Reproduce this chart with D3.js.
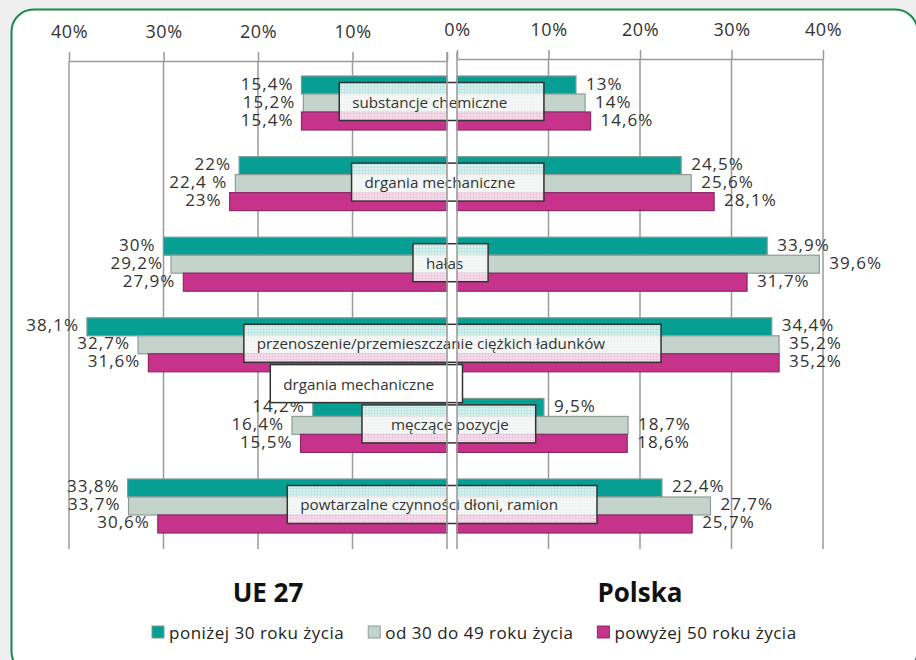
<!DOCTYPE html>
<html>
<head>
<meta charset="utf-8">
<script src="https://cdn.jsdelivr.net/npm/d3@7"></script>
<style>
  html, body { margin: 0; padding: 0; background: #efefef; }
  svg { display: block; font-family: 'Open Sans', 'DejaVu Sans', sans-serif; }
</style>
</head>
<body>
<div id="chart"></div>
<script>
// kategorie zagrożeń
const categories = [
    'substancje chemiczne',
    'drgania mechaniczne',
    'hałas',
    'przenoszenie/przemieszczanie ciężkich ładunków',
    'męczące pozycje',
    'powtarzalne czynności dłoni, ramion'
];
const ageGroups = ['poniżej 30 roku życia', 'od 30 do 49 roku życia', 'powyżej 50 roku życia'];
const colors = ['#079e93', '#c4d4cd', '#c7338b'];
const strokes = ['#7f9a96', '#8f9c97', '#8a2a66'];

// UE 27 (lewa strona)
const ueUnder30 = [15.4, 22, 30, 38.1, 14.2, 33.8];
const ue30to49 = [15.2, 22.4, 29.2, 32.7, 16.4, 33.7];
const ue50plus = [15.4, 23, 27.9, 31.6, 15.5, 30.6];

// Polska (prawa strona)
const plUnder30 = [13, 24.5, 33.9, 34.4, 9.5, 22.4];
const pl30to49 = [14, 25.6, 39.6, 35.2, 18.7, 27.7];
const pl50plus = [14.6, 28.1, 31.7, 35.2, 18.6, 25.7];

const tickValues = [0, 10, 20, 30, 40];
const tickLabels = ['0%', '10%', '20%', '30%', '40%'];

// etykieta zapisana w oryginale ze spacją
const labelOverrides = { 'ue-1-1': '22,4 %' };

// ramki z nazwami kategorii: [lewa krawędź (% UE), prawa krawędź (% PL), wcięcie tekstu]
const boxes = [
    [11.4, 9.5, 13],
    [10.1, 9.5, 13],
    [3.6, 3.4, 13],
    [21.5, 22.3, 13],
    [9.0, 8.6, 29],
    [16.9, 15.3, 13]
];
const extraBoxText = 'drgania mechaniczne';

const W = 916, H = 660;
const svg = d3.select('#chart').append('svg').attr('width', W).attr('height', H);

// tło i zaokrąglona ramka
svg.append('rect').attr('x', 11.5).attr('y', 9.5).attr('width', 906).attr('height', 664)
    .attr('rx', 22).attr('fill', '#fff').attr('stroke', '#1a8a4c').attr('stroke-width', 2);

const defs = svg.append('defs');
const pat = defs.append('pattern').attr('id', 'dots').attr('patternUnits', 'userSpaceOnUse')
    .attr('width', 3).attr('height', 3);
pat.append('rect').attr('width', 3).attr('height', 3).attr('fill', '#fff').attr('fill-opacity', 0.74);
pat.append('rect').attr('width', 2).attr('height', 2).attr('fill', '#fff').attr('fill-opacity', 0.4);

// skale
const xLeft = d3.scaleLinear().domain([0, 40]).range([447, 69]);
const xRight = d3.scaleLinear().domain([0, 40]).range([457, 823]);
const y = d3.scaleBand().domain(categories).range([76, 533]).paddingInner(0.33);
const ySub = d3.scaleBand().domain(ageGroups).range([0, y.bandwidth()]);

const gridTop = 52, gridBottom = 549;

// osie górne (0% podpisane tylko raz, po stronie Polski)
function drawAxis(scale, yPos, showZero) {
    const axis = d3.axisTop(scale).tickValues(tickValues).tickSize(9).tickSizeOuter(0).tickPadding(14)
        .tickFormat((d, i) => (d === 0 && !showZero) ? '' : tickLabels[i]);
    const g = svg.append('g').attr('transform', `translate(0,${yPos})`).call(axis);
    g.select('.domain').attr('stroke', '#9a9a9a').attr('stroke-width', 1.5);
    g.selectAll('.tick line').attr('stroke', '#9a9a9a').attr('stroke-width', 1.5);
    g.selectAll('.tick text').attr('font-size', 18).attr('letter-spacing', 0.6).attr('fill', '#333')
        .attr('font-family', "'Open Sans', sans-serif");
    // linie siatki
    svg.append('g').selectAll('line').data(tickValues.filter(d => d > 0)).join('line')
        .attr('x1', d => scale(d)).attr('x2', d => scale(d))
        .attr('y1', yPos).attr('y2', gridBottom)
        .attr('stroke', '#9a9a9a').attr('stroke-width', 1.5);
}
drawAxis(xLeft, 61, false);
drawAxis(xRight, 59, true);

const ueSeries = [ueUnder30, ue30to49, ue50plus];
const plSeries = [plUnder30, pl30to49, pl50plus];

const fmt = v => String(v).replace('.', ',') + '%';

function rows(series, side) {
    const out = [];
    series.forEach((vals, s) => {
        vals.forEach((v, i) => {
            out.push({ side: side, s: s, cat: categories[i], value: v,
                label: labelOverrides[side + '-' + i + '-' + s] || fmt(v) });
        });
    });
    return out;
}
const ueData = rows(ueSeries, 'ue');
const plData = rows(plSeries, 'pl');

const barY = d => y(d.cat) + ySub(ageGroups[d.s]);

// słupki UE
svg.append('g').selectAll('rect').data(ueData).join('rect')
    .attr('x', d => xLeft(d.value)).attr('width', d => xLeft(0) - xLeft(d.value))
    .attr('y', barY).attr('height', ySub.bandwidth())
    .attr('fill', d => colors[d.s]).attr('stroke', d => strokes[d.s]).attr('stroke-width', 1.2);

// słupki Polska
svg.append('g').selectAll('rect').data(plData).join('rect')
    .attr('x', xRight(0)).attr('width', d => xRight(d.value) - xRight(0))
    .attr('y', barY).attr('height', ySub.bandwidth())
    .attr('fill', d => colors[d.s]).attr('stroke', d => strokes[d.s]).attr('stroke-width', 1.2);

// etykiety wartości
svg.append('g').selectAll('text').data(ueData).join('text')
    .attr('x', d => xLeft(d.value) - 8).attr('y', d => barY(d) + ySub.bandwidth() / 2 - 2)
    .attr('text-anchor', 'end').attr('dominant-baseline', 'central')
    .attr('font-size', 17).attr('letter-spacing', 1).attr('fill', '#333').text(d => d.label);

svg.append('g').selectAll('text').data(plData).join('text')
    .attr('x', d => xRight(d.value) + 10).attr('y', d => barY(d) + ySub.bandwidth() / 2 - 2)
    .attr('dominant-baseline', 'central')
    .attr('font-size', 17).attr('letter-spacing', 1).attr('fill', '#333').text(d => d.label);

// ramki z nazwami kategorii
const boxH = 38;
const boxG = svg.append('g');
categories.forEach((c, i) => {
    const b = boxes[i];
    const x0 = xLeft(b[0]), x1 = xRight(b[1]);
    const cy = y(c) + y.bandwidth() / 2 - 1.5;
    boxG.append('rect').attr('x', x0).attr('y', cy - boxH / 2).attr('width', x1 - x0).attr('height', boxH)
        .attr('fill', 'url(#dots)').attr('stroke', '#333').attr('stroke-width', 1.5);
    boxG.append('text').attr('x', x0 + b[2]).attr('y', cy).attr('dominant-baseline', 'central')
        .attr('font-size', 15.2).attr('fill', '#333').text(c);
});

// dodatkowa biała ramka między grupami 4 i 5
(function () {
    const x0 = xLeft(18.7), x1 = xRight(0.6);
    const cy = (y(categories[3]) + y(categories[4])) / 2 + y.bandwidth() / 2 - 1.5;
    boxG.append('rect').attr('x', x0).attr('y', cy - boxH / 2).attr('width', x1 - x0).attr('height', boxH)
        .attr('fill', '#fff').attr('stroke', '#333').attr('stroke-width', 1.5);
    boxG.append('text').attr('x', x0 + 13).attr('y', cy).attr('dominant-baseline', 'central')
        .attr('font-size', 15.2).attr('fill', '#333').text(extraBoxText);
})();

// linie zerowe na wierzchu
svg.append('g').selectAll('line').data([xLeft(0), xRight(0)]).join('line')
    .attr('x1', d => d).attr('x2', d => d).attr('y1', gridTop).attr('y2', gridBottom)
    .attr('stroke', '#9a9a9a').attr('stroke-width', 1.5);

// tytuły stron
svg.append('text').attr('x', (xLeft(0) + xLeft(40)) / 2 + 10).attr('y', 592)
    .attr('text-anchor', 'middle').attr('dominant-baseline', 'central')
    .attr('font-size', 26).attr('font-weight', 'bold').attr('fill', '#111').text('UE 27');
svg.append('text').attr('x', (xRight(0) + xRight(40)) / 2).attr('y', 592)
    .attr('text-anchor', 'middle').attr('dominant-baseline', 'central')
    .attr('font-size', 26).attr('font-weight', 'bold').attr('fill', '#111').text('Polska');

// legenda
const legend = svg.append('g').attr('transform', 'translate(152,632)');
let lx = 0;
ageGroups.forEach((a, i) => {
    legend.append('rect').attr('x', lx).attr('y', -6).attr('width', 12).attr('height', 12)
        .attr('fill', colors[i]).attr('stroke', strokes[i]).attr('stroke-width', 1);
    const t = legend.append('text').attr('x', lx + 17).attr('y', 0).attr('dominant-baseline', 'central')
        .attr('font-size', 17).attr('letter-spacing', 0.5).attr('fill', '#222').text(a);
    lx += 17 + t.node().getComputedTextLength() + 24;
});
</script>
</body>
</html>
